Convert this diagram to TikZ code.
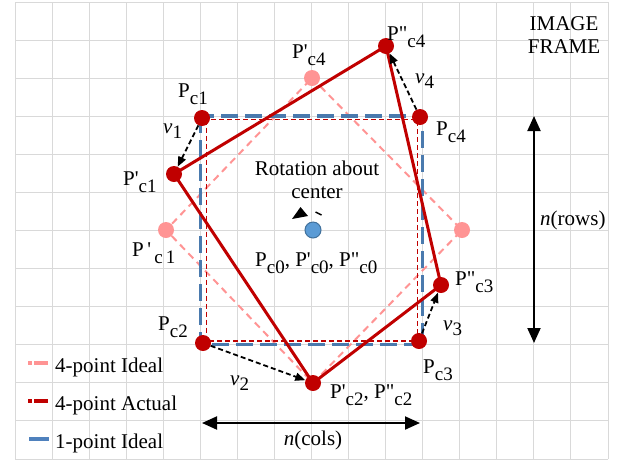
\documentclass[tikz,border=0pt]{standalone}
\usepackage{fontspec}
\setmainfont{Liberation Serif}[Ligatures=TeXOff]
\usetikzlibrary{arrows.meta}
\definecolor{dred}{HTML}{C00000}
\definecolor{pinkc}{HTML}{FF9494}
\definecolor{bluec}{HTML}{4A7AAE}
\definecolor{legblue}{HTML}{4F81BD}
\definecolor{dotblue}{HTML}{5B9BD5}
\definecolor{dotedge}{HTML}{41719C}
\definecolor{gridc}{HTML}{D9D9D9}
\newcommand{\subx}[1]{\raisebox{-7pt}{\fontsize{19}{19}\selectfont #1}}
\newcommand{\subv}[1]{\raisebox{-5pt}{\fontsize{19}{19}\selectfont #1}}
\begin{document}
\begin{tikzpicture}[x=1pt,y=-1pt,
  font=\fontsize{21}{24}\selectfont,
  gridline/.style={draw=gridc,line width=1pt},
  reddot/.style={circle,fill=dred,inner sep=0,minimum size=16pt},
  pinkdot/.style={circle,fill=pinkc,inner sep=0,minimum size=16pt},
  centerdot/.style={circle,fill=dotblue,draw=dotedge,line width=1pt,inner sep=0,minimum size=16pt},
  pinkline/.style={draw=pinkc,line width=2pt,dash pattern=on 7pt off 5pt},
  redthin/.style={draw=dred,line width=1.8pt,dash pattern=on 5pt off 3pt},
  bluedash/.style={draw=bluec,line width=3.5pt,dash pattern=on 17pt off 7pt},
  redsolid/.style={draw=dred,line width=3pt,line join=round},
  vec/.style={draw=black,line width=1.8pt,dash pattern=on 5pt off 3pt,-{Triangle[length=10pt,width=8pt]}},
  dim/.style={draw=black,line width=2pt,{Triangle[length=15pt,width=13pt]}-{Triangle[length=15pt,width=13pt]}},
  lab/.style={anchor=base west,inner sep=0},
  clab/.style={anchor=base,inner sep=0}]
\useasboundingbox (0,0) rectangle (620,459);
% grid
\foreach \i in {0,...,16} \draw[gridline] ({15+37.0625*\i},2) -- ({15+37.0625*\i},459);
\foreach \j in {0,...,12} \draw[gridline] (15,{2+38.083*\j}) -- (608,{2+38.083*\j});
% point coordinates
\coordinate (Pc1) at (202,118);
\coordinate (Pc2) at (203,343);
\coordinate (Pc3) at (419,341);
\coordinate (Pc4) at (420,117);
\coordinate (Qc1) at (174,174);
\coordinate (Qc2) at (313,383);
\coordinate (Rc3) at (441,285);
\coordinate (Rc4) at (386,46);
\coordinate (Ic1) at (166,230);
\coordinate (Ic3) at (462,230);
\coordinate (Ic4) at (312,78);
\coordinate (C0) at (313,230);
% rectangles corners
\coordinate (B1) at (200.3,116.2);
\coordinate (B3) at (422.7,344.7);
\coordinate (T1) at (206.5,119.5);
\coordinate (T3) at (417.5,341);
% shapes
\draw[pinkline] (Ic4) -- (Ic3) -- (Qc2) -- (Ic1) -- cycle;
\draw[bluedash] (B1) rectangle (B3);
\draw[redthin] (T1) rectangle (T3);
\draw[redsolid] (Qc1) -- (Rc4) -- (Rc3) -- (Qc2) -- cycle;
% dots
\node[pinkdot] (ic1) at (Ic1) {};
\node[pinkdot] (ic3) at (Ic3) {};
\node[pinkdot] (ic4) at (Ic4) {};
\node[reddot] (pc1) at (Pc1) {};
\node[reddot] (pc2) at (Pc2) {};
\node[reddot] (pc3) at (Pc3) {};
\node[reddot] (pc4) at (Pc4) {};
\node[reddot] (qc1) at (Qc1) {};
\node[reddot] (qc2) at (Qc2) {};
\node[reddot] (rc3) at (Rc3) {};
\node[reddot] (rc4) at (Rc4) {};
\node[centerdot] (c0) at (C0) {};
% vectors
\draw[vec] (pc1) -- (qc1);
\draw[vec] (pc2) -- (qc2);
\draw[vec] (pc3) -- (rc3);
\draw[vec] (pc4) -- (rc4);
% rotation icon
\fill (292,219) -- (300.5,207) -- (308,216) -- cycle;
\draw[line width=1.5pt] (315.5,212) -- (321.5,215);
% dimension arrows
\coordinate (colL) at (202,423);
\coordinate (colR) at (420,423);
\coordinate (rowT) at (534,116);
\coordinate (rowB) at (534,343);
\draw[dim] (colL) -- (colR);
\draw[dim] (rowT) -- (rowB);
% labels
\node[lab] (lpc1) at (178,97) {P\subx{c1}};
\node[lab] (lv1) at (163,133) {\textit{v}\subv{1}};
\node[lab] (lqc1) at (123,185) {P'\subx{c1}};
\node[lab] (lic1) at (132,256) {P\,'\subx{\,c\,1}};
\node[lab] (lic4) at (292,58) {P'\subx{c4}};
\node[lab] (lrc4) at (387,40) {P"\subx{c4}};
\node[lab] (lv4) at (415,83) {\textit{v}\subv{4}};
\node[lab] (lpc4) at (436,135) {P\subx{c4}};
\node[clab] (img1) at (564,30) {IMAGE};
\node[clab] (img2) at (564,53) {FRAME};
\node[clab] (rot1) at (317,175) {Rotation about};
\node[clab] (rot2) at (317,198) {center};
\node[lab] (lc0) at (255,266) {P\subx{c0}, P'\subx{c0}, P"\subx{c0}};
\node[lab] (lrc3) at (455,285) {P"\subx{c3}};
\node[lab] (lv3) at (443,330) {\textit{v}\subv{3}};
\node[lab] (lpc3) at (423,373) {P\subx{c3}};
\node[lab] (lqc2) at (330,398) {P'\subx{c2}, P"\subx{c2}};
\node[lab] (lv2) at (230,385) {\textit{v}\subv{2}};
\node[lab] (lpc2) at (158,330) {P\subx{c2}};
\node[clab] (lcols) at (313,445) {\textit{n}(cols)};
\node[lab] (lrows) at (540,225) {\textit{n}(rows)};
% legend
\coordinate (g1a) at (28,363); \coordinate (g1b) at (48,363);
\coordinate (g2a) at (28,401); \coordinate (g2b) at (48,401);
\coordinate (g3a) at (29,439); \coordinate (g3b) at (49,439);
\draw[pinkc,line width=4pt,dash pattern=on 4pt off 2pt on 15pt off 10pt] (g1a) -- (g1b);
\draw[dred,line width=4pt,dash pattern=on 4pt off 2pt on 15pt off 10pt] (g2a) -- (g2b);
\draw[legblue,line width=4pt] (g3a) -- (g3b);
\node[lab] (leg1) at (55,372) {4-point Ideal};
\node[lab] (leg2) at (55,410) {4-point Actual};
\node[lab] (leg3) at (55,448) {1-point Ideal};
\end{tikzpicture}
\end{document}
